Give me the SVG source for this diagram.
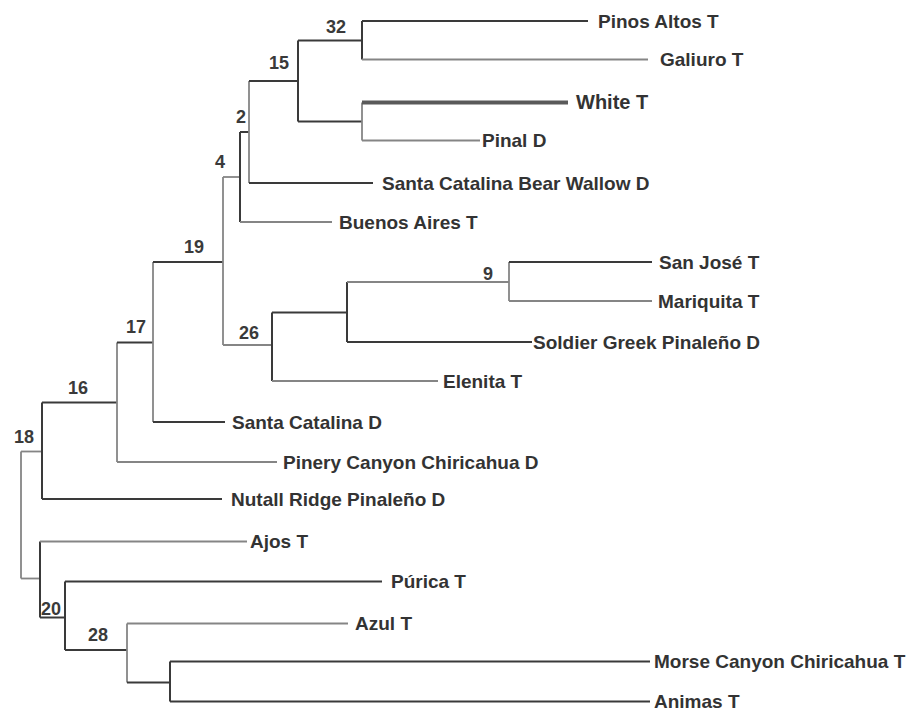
<svg xmlns="http://www.w3.org/2000/svg" width="919" height="715" viewBox="0 0 919 715">
<style>
.bg{fill:#ffffff}
.d{stroke:#3a3a3a;stroke-width:2;fill:none}
.g{stroke:#858585;stroke-width:1.8;fill:none}
.w{stroke:#5a5a5a;stroke-width:4;fill:none}
.leaf{font-family:"Liberation Sans",Arial,sans-serif;font-weight:bold;font-size:19px;fill:#333333}
.sup{font-family:"Liberation Sans",Arial,sans-serif;font-weight:bold;font-size:18px;fill:#3a3a3a;text-anchor:middle}
</style>
<rect class="bg" x="0" y="0" width="919" height="715"/>
<g id="connectors">
<path class="g" d="M21,451.5 V578.5"/>
<path class="g" d="M21,451.5 H42"/>
<path class="g" d="M21,578.5 H40"/>
<path class="d" d="M42,402.5 V499"/>
<path class="d" d="M42,402.5 H117"/>
<path class="d" d="M42,499 H222"/>
<path class="g" d="M117,342.5 V462"/>
<path class="d" d="M117,342.5 H153"/>
<path class="g" d="M117,462 H277"/>
<path class="g" d="M153,262 V422"/>
<path class="d" d="M153,262 H223"/>
<path class="d" d="M153,422 H225"/>
<path class="g" d="M223,177 V345"/>
<path class="g" d="M223,177 H240"/>
<path class="g" d="M223,345 H272"/>
<path class="d" d="M240,132 V222"/>
<path class="d" d="M240,132 H249"/>
<path class="g" d="M240,222 H332"/>
<path class="g" d="M249,81 V183"/>
<path class="d" d="M249,81 H298"/>
<path class="d" d="M249,183 H373"/>
<path class="d" d="M298,40.5 V121.5"/>
<path class="d" d="M298,40.5 H362"/>
<path class="d" d="M298,121.5 H362"/>
<path class="d" d="M362,21 V59.5"/>
<path class="d" d="M362,21 H588"/>
<path class="g" d="M362,59.5 H648"/>
<path class="g" d="M362,102.5 V140.5"/>
<path class="w" d="M362,102.5 H568"/>
<path class="g" d="M362,140.5 H480"/>
<path class="d" d="M272,312.5 V381"/>
<path class="d" d="M272,312.5 H347"/>
<path class="g" d="M272,381 H438"/>
<path class="d" d="M347,282 V342"/>
<path class="g" d="M347,282 H509"/>
<path class="d" d="M347,342 H532"/>
<path class="g" d="M509,262 V301"/>
<path class="d" d="M509,262 H652"/>
<path class="g" d="M509,301 H652"/>
<path class="d" d="M40,541.5 V617.5"/>
<path class="g" d="M40,541.5 H247"/>
<path class="d" d="M40,617.5 H65"/>
<path class="d" d="M65,581.5 V650"/>
<path class="d" d="M65,581.5 H382"/>
<path class="d" d="M65,650 H127"/>
<path class="g" d="M127,623.5 V682.5"/>
<path class="g" d="M127,623.5 H348"/>
<path class="d" d="M127,682.5 H170"/>
<path class="d" d="M170,661.5 V701.5"/>
<path class="d" d="M170,661.5 H650"/>
<path class="d" d="M170,701.5 H650"/>
</g>
<g id="n18"><text class="sup" x="24" y="443">18</text></g>
<g id="n16"><text class="sup" x="78" y="394">16</text></g>
<g id="n17"><text class="sup" x="136" y="333">17</text></g>
<g id="n19"><text class="sup" x="194" y="253">19</text></g>
<g id="n4"><text class="sup" x="220" y="168">4</text></g>
<g id="n2"><text class="sup" x="241" y="123">2</text></g>
<g id="n15"><text class="sup" x="279" y="69">15</text></g>
<g id="n32"><text class="sup" x="336" y="33">32</text></g>
<g id="n26"><text class="sup" x="249" y="339">26</text></g>
<g id="n9"><text class="sup" x="488" y="280">9</text></g>
<g id="n20"><text class="sup" x="51" y="615">20</text></g>
<g id="n28"><text class="sup" x="98" y="641">28</text></g>
<g id="pinos-altos"><text class="leaf" x="598" y="28">Pinos Altos T</text></g>
<g id="galiuro"><text class="leaf" x="660" y="66">Galiuro T</text></g>
<g id="white"><text class="leaf" x="576" y="109" style="font-size:20px">White T</text></g>
<g id="pinal"><text class="leaf" x="482" y="147">Pinal D</text></g>
<g id="sc-bear-wallow"><text class="leaf" x="382" y="190">Santa Catalina Bear Wallow D</text></g>
<g id="buenos-aires"><text class="leaf" x="339" y="229">Buenos Aires T</text></g>
<g id="san-jose"><text class="leaf" x="659" y="269">San José T</text></g>
<g id="mariquita"><text class="leaf" x="658" y="308">Mariquita T</text></g>
<g id="soldier-greek"><text class="leaf" x="533" y="349">Soldier Greek Pinaleño D</text></g>
<g id="elenita"><text class="leaf" x="443" y="388">Elenita T</text></g>
<g id="santa-catalina"><text class="leaf" x="232" y="429">Santa Catalina D</text></g>
<g id="pinery-canyon"><text class="leaf" x="283" y="469">Pinery Canyon Chiricahua D</text></g>
<g id="nutall-ridge"><text class="leaf" x="231" y="506">Nutall Ridge Pinaleño D</text></g>
<g id="ajos"><text class="leaf" x="250" y="548">Ajos T</text></g>
<g id="purica"><text class="leaf" x="391" y="588">Púrica T</text></g>
<g id="azul"><text class="leaf" x="355" y="630">Azul T</text></g>
<g id="morse-canyon"><text class="leaf" x="654" y="668">Morse Canyon Chiricahua T</text></g>
<g id="animas"><text class="leaf" x="654" y="708">Animas T</text></g>
</svg>
